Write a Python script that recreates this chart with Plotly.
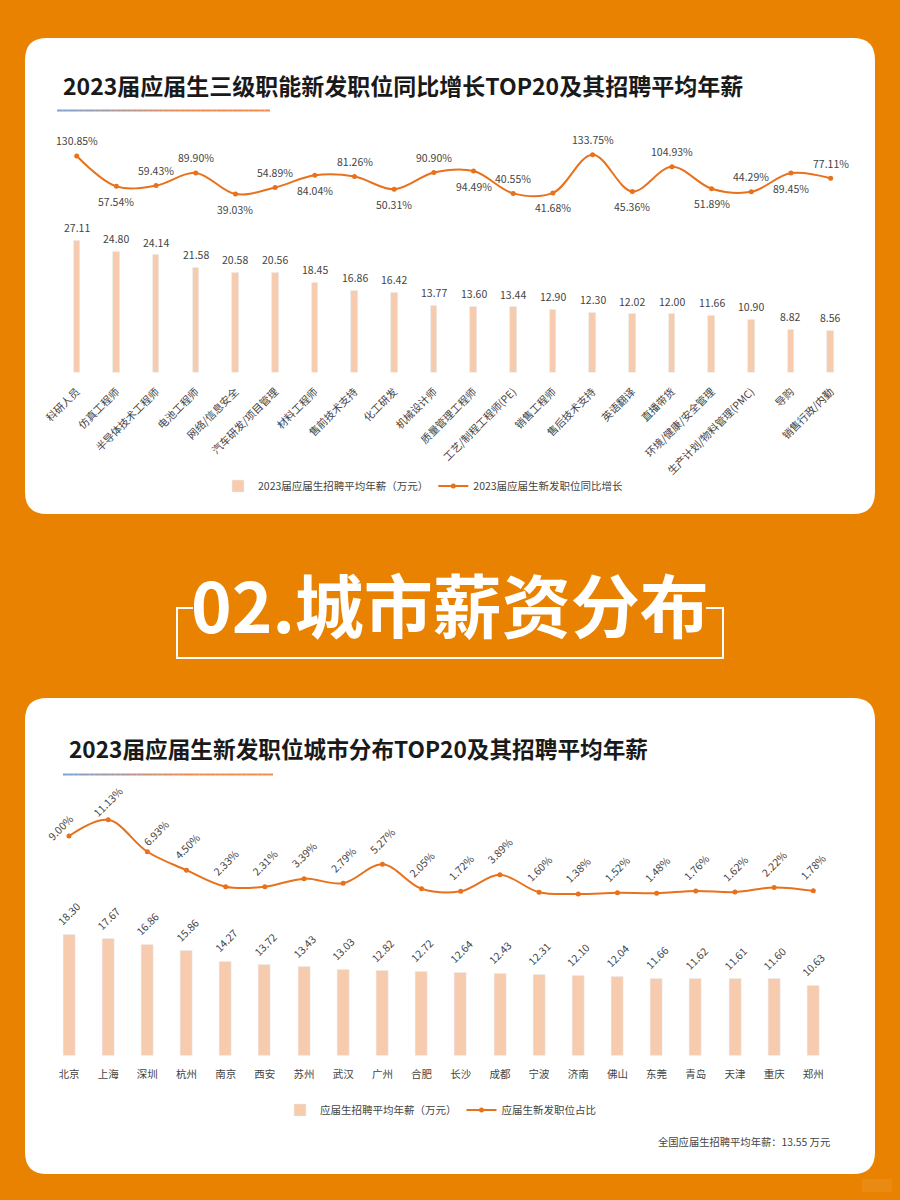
import plotly.graph_objects as go

# ---------- data ----------
title_top = "2023届应届生三级职能新发职位同比增长TOP20及其招聘平均年薪"
roles = ["科研人员", "仿真工程师", "半导体技术工程师", "电池工程师", "网络/信息安全", "汽车研发/项目管理",
         "材料工程师", "售前技术支持", "化工研发", "机械设计师", "质量管理工程师", "工艺/制程工程师(PE)",
         "销售工程师", "售后技术支持", "英语翻译", "直播带货", "环境/健康/安全管理", "生产计划/物料管理(PMC)",
         "导购", "销售行政/内勤"]
role_salary = [27.11, 24.80, 24.14, 21.58, 20.58, 20.56, 18.45, 16.86, 16.42, 13.77,
               13.60, 13.44, 12.90, 12.30, 12.02, 12.00, 11.66, 10.90, 8.82, 8.56]
role_growth = [130.85, 57.54, 59.43, 89.90, 39.03, 54.89, 84.04, 81.26, 50.31, 90.90,
               94.49, 40.55, 41.68, 133.75, 45.36, 104.93, 51.89, 44.29, 89.45, 77.11]
growth_label_side = [1, -1, 1, 1, -1, 1, -1, 1, -1, 1, -1, 1, -1, 1, -1, 1, -1, 1, -1, 1]

title_bottom = "2023届应届生新发职位城市分布TOP20及其招聘平均年薪"
cities = ["北京", "上海", "深圳", "杭州", "南京", "西安", "苏州", "武汉", "广州", "合肥",
          "长沙", "成都", "宁波", "济南", "佛山", "东莞", "青岛", "天津", "重庆", "郑州"]
city_salary = [18.30, 17.67, 16.86, 15.86, 14.27, 13.72, 13.43, 13.03, 12.82, 12.72,
               12.64, 12.43, 12.31, 12.10, 12.04, 11.66, 11.62, 11.61, 11.60, 10.63]
city_share = [9.00, 11.13, 6.93, 4.50, 2.33, 2.31, 3.39, 2.79, 5.27, 2.05,
              1.72, 3.89, 1.60, 1.38, 1.52, 1.48, 1.76, 1.62, 2.22, 1.78]

# ---------- style ----------
W, H = 900, 1200
BG = "#E88200"
BAR = "#F7CBAD"
LINE = "#E8711C"
TXT = "#444444"
CJK = "Noto Sans CJK SC"


def px(x):
    return x / W


def py(y):
    return 1 - y / H


def card(x0, y0, x1, y1, r):
    d = (f"M{px(x0+r)},{py(y0)} L{px(x1-r)},{py(y0)} Q{px(x1)},{py(y0)} {px(x1)},{py(y0+r)} "
         f"L{px(x1)},{py(y1-r)} Q{px(x1)},{py(y1)} {px(x1-r)},{py(y1)} "
         f"L{px(x0+r)},{py(y1)} Q{px(x0)},{py(y1)} {px(x0)},{py(y1-r)} "
         f"L{px(x0)},{py(y0+r)} Q{px(x0)},{py(y0)} {px(x0+r)},{py(y0)} Z")
    return dict(type="path", path=d, xref="paper", yref="paper", fillcolor="white",
                line_width=0, layer="below")


def gradient_rule(x0, x1, y):
    out = []
    n = 40
    a, b = (122, 163, 212), (241, 138, 75)
    for i in range(n):
        t = i / (n - 1)
        t2 = min(1, t * 1.6)
        c = tuple(round(a[k] + (b[k] - a[k]) * t2) for k in range(3))
        out.append(dict(type="rect", xref="paper", yref="paper",
                        x0=px(x0 + (x1 - x0) * i / n), x1=px(x0 + (x1 - x0) * (i + 1) / n),
                        y0=py(y + 1), y1=py(y - 1), fillcolor=f"rgb{c}", line_width=0))
    return out


def hline(x0, x1, y):
    return dict(type="line", xref="paper", yref="paper", x0=px(x0), x1=px(x1), y0=py(y), y1=py(y),
                line=dict(color="white", width=2))


def vline(x, y0, y1):
    return dict(type="line", xref="paper", yref="paper", x0=px(x), x1=px(x), y0=py(y0), y1=py(y1),
                line=dict(color="white", width=2))


def note(x, y, text, size, color, anchor="center"):
    return dict(x=px(x), y=py(y), xref="paper", yref="paper", xanchor=anchor, yanchor="middle",
                text=text, showarrow=False, font=dict(size=size, color=color, family=CJK))


fig = go.Figure()

# top chart
fig.add_trace(go.Bar(x=roles, y=role_salary, name="2023届应届生招聘平均年薪（万元）", xaxis="x", yaxis="y",
                     width=0.165, marker_color=BAR, cliponaxis=False, legend="legend"))
fig.add_trace(go.Scatter(x=roles, y=role_growth, name="2023届应届生新发职位同比增长", xaxis="x", yaxis="y2",
                         mode="lines+markers", line=dict(color=LINE, width=2, shape="spline", smoothing=1.0),
                         marker=dict(size=5, color=LINE), cliponaxis=False, legend="legend"))

# bottom chart
fig.add_trace(go.Bar(x=cities, y=city_salary, name="应届生招聘平均年薪（万元）", xaxis="x2", yaxis="y3",
                     width=0.306, marker_color=BAR, cliponaxis=False, legend="legend2"))
fig.add_trace(go.Scatter(x=cities, y=city_share, name="应届生新发职位占比", xaxis="x2", yaxis="y4",
                         mode="lines+markers", line=dict(color=LINE, width=2, shape="spline", smoothing=1.0),
                         marker=dict(size=5, color=LINE), cliponaxis=False, legend="legend2"))

ann = []
lab = dict(size=10.5, color=TXT, family=CJK)
for c, v in zip(roles, role_salary):
    ann.append(dict(x=c, y=v, xref="x", yref="y", text=f"{v:.2f}", showarrow=False, yshift=13, font=lab))
for c, v, side in zip(roles, role_growth, growth_label_side):
    ann.append(dict(x=c, y=v, xref="x", yref="y2", text=f"{v:.2f}%", showarrow=False,
                    yshift=15 * side, font=lab))
for i, (c, v) in enumerate(zip(cities, city_share)):
    dx, dy = {0: (-9, 9), 1: (0, 18), 2: (9, 19)}.get(i, (0, 24))
    ann.append(dict(x=c, y=v, xref="x2", yref="y4", text=f"{v:.2f}%", showarrow=False, textangle=-45,
                    xshift=dx, yshift=dy, font=lab))
for c, v in zip(cities, city_salary):
    ann.append(dict(x=c, y=v, xref="x2", yref="y3", text=f"{v:.2f}", showarrow=False, textangle=-45,
                    yshift=21, font=lab))

ann += [
    note(402.5, 84.5, f"<b>{title_top}</b>", 23, "#1A1A1A"),
    note(358.5, 748.5, f"<b>{title_bottom}</b>", 22.65, "#1A1A1A"),
    note(450, 603, "<b>02.城市薪资分布</b>", 69, "white"),
    note(832, 1141, "全国应届生招聘平均年薪：13.55 万元", 10.3, TXT, anchor="right"),
]

shapes = [card(25, 38, 875, 514, 22), card(25, 698, 875, 1174, 22)]
shapes += gradient_rule(57, 270, 110.5) + gradient_rule(63, 273, 774.5)
shapes += [hline(177, 193, 608), hline(706, 723, 608), hline(176, 724, 658),
           vline(177, 607, 659), vline(723, 607, 659)]
shapes.append(dict(type="rect", xref="paper", yref="paper", x0=px(862), x1=px(892), y0=py(1192), y1=py(1179),
                   fillcolor="rgba(255,255,255,0.07)", line_width=0))

axis_off = dict(visible=False, fixedrange=True, automargin=False)
fig.update_layout(
    width=W, height=H, margin=dict(l=0, r=0, t=0, b=0), autosize=False,
    paper_bgcolor=BG, plot_bgcolor="rgba(0,0,0,0)", bargap=0,
    font=dict(family=CJK, color=TXT),
    shapes=shapes, annotations=ann, hovermode=False,
    xaxis=dict(domain=[px(56.9), px(850.5)], anchor="y", type="category", range=[-0.5, 19.5], tickangle=-45,
               automargin=False, showline=False, showgrid=False, zeroline=False, ticks="outside", ticklen=8,
               tickcolor="rgba(0,0,0,0)", tickfont=dict(size=10.5, color=TXT, family=CJK)),
    yaxis=dict(domain=[py(372.5), py(226.7)], range=[0, 30], **axis_off),
    yaxis2=dict(domain=[py(210.2), py(148)], range=[0, 150], anchor="x", **axis_off),
    xaxis2=dict(domain=[px(49.4), px(832.9)], anchor="y3", type="category", range=[-0.5, 19.5], tickangle=0,
                automargin=False, showline=False, showgrid=False, zeroline=False, ticks="outside", ticklen=9,
                tickcolor="rgba(0,0,0,0)", tickfont=dict(size=10.5, color=TXT, family=CJK)),
    yaxis3=dict(domain=[py(1055.7), py(923.7)], range=[0, 20], **axis_off),
    yaxis4=dict(domain=[py(904.4), py(813.2)], range=[0, 12], anchor="x2", **axis_off),
    legend=dict(orientation="h", x=px(218), y=py(486), xanchor="left", yanchor="middle",
                bgcolor="rgba(0,0,0,0)", font=dict(size=10.5, color=TXT, family=CJK), itemwidth=30),
    legend2=dict(orientation="h", x=px(280), y=py(1110), xanchor="left", yanchor="middle",
                 bgcolor="rgba(0,0,0,0)", font=dict(size=10.5, color=TXT, family=CJK), itemwidth=30),
)

fig.write_html("out.html", config={"displayModeBar": False, "responsive": False},
               post_script="document.body.style.margin='0';document.documentElement.style.overflow='hidden';")
